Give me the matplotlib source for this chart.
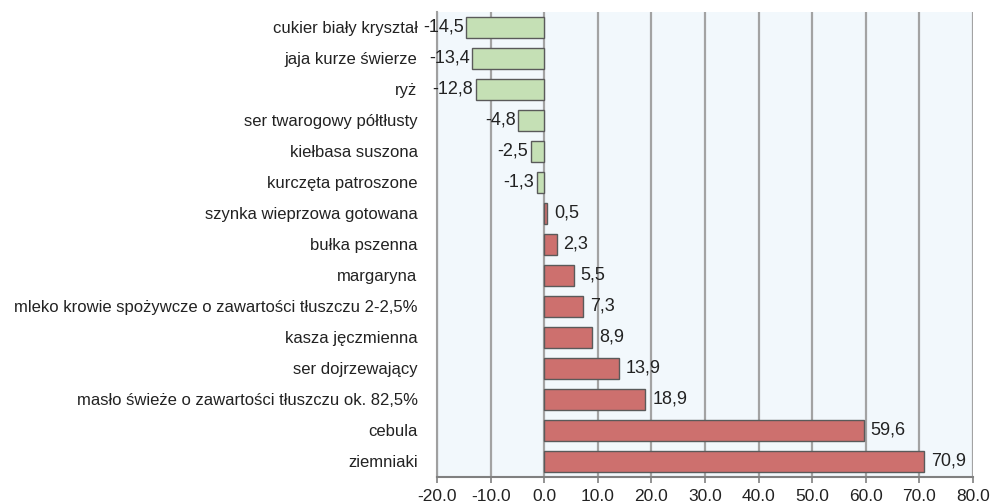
import matplotlib
matplotlib.use("Agg")
import matplotlib.pyplot as plt

categories = [
    "cukier biały kryształ",
    "jaja kurze świerze",
    "ryż",
    "ser twarogowy półtłusty",
    "kiełbasa suszona",
    "kurczęta patroszone",
    "szynka wieprzowa gotowana",
    "bułka pszenna",
    "margaryna",
    "mleko krowie spożywcze o zawartości tłuszczu 2-2,5%",
    "kasza jęczmienna",
    "ser dojrzewający",
    "masło świeże o zawartości tłuszczu ok. 82,5%",
    "cebula",
    "ziemniaki",
]
values = [-14.5, -13.4, -12.8, -4.8, -2.5, -1.3, 0.5, 2.3, 5.5, 7.3, 8.9, 13.9, 18.9, 59.6, 70.9]
x_ticks = [-20, -10, 0, 10, 20, 30, 40, 50, 60, 70, 80]

plt.rcParams["font.family"] = ["Liberation Sans", "DejaVu Sans"]

fig = plt.figure(figsize=(9.9, 5.04), dpi=100)
ax = fig.add_axes([0.4414, 0.0536, 0.5414, 0.9226])
ax.set_facecolor("#f2f8fc")

ypos = list(range(len(categories)))
colors = ["#c5e0b5" if v < 0 else "#cd706e" for v in values]
ax.barh(ypos, values, height=0.7, color=colors, edgecolor="#5a5a5a",
        linewidth=1.0, zorder=3)

for y, v in zip(ypos, values):
    txt = f"{v:.1f}".replace(".", ",")
    if v < 0:
        ax.annotate(txt, (v, y), xytext=(-2, 0), textcoords="offset points",
                    ha="right", va="center", fontsize=13, color="#222222", zorder=4)
    else:
        ax.annotate(txt, (v, y), xytext=(5, 0), textcoords="offset points",
                    ha="left", va="center", fontsize=13, color="#222222", zorder=4)

ax.set_xlim(-20, 80)
ax.set_ylim(len(categories) - 0.5, -0.5)
ax.set_xticks(x_ticks)
ax.set_xticklabels([f"{t:.1f}" for t in x_ticks], fontsize=12.5, color="#222222")
ax.set_yticks(ypos)
ax.set_yticklabels(categories, fontsize=12, color="#222222")

ax.xaxis.grid(True, color="#a3a3a3", linewidth=1.6, zorder=1)
ax.yaxis.grid(False)
ax.set_axisbelow(True)

ax.tick_params(axis="y", length=0, pad=14)
ax.tick_params(axis="x", length=4, width=1.2, color="#808080", pad=5)

ax.spines["top"].set_visible(False)
ax.spines["right"].set_visible(False)
ax.spines["left"].set_color("#a0a0a0")
ax.spines["left"].set_linewidth(1.5)
ax.spines["bottom"].set_color("#808080")
ax.spines["bottom"].set_linewidth(1.5)

fig.savefig("out.png", dpi=100)
